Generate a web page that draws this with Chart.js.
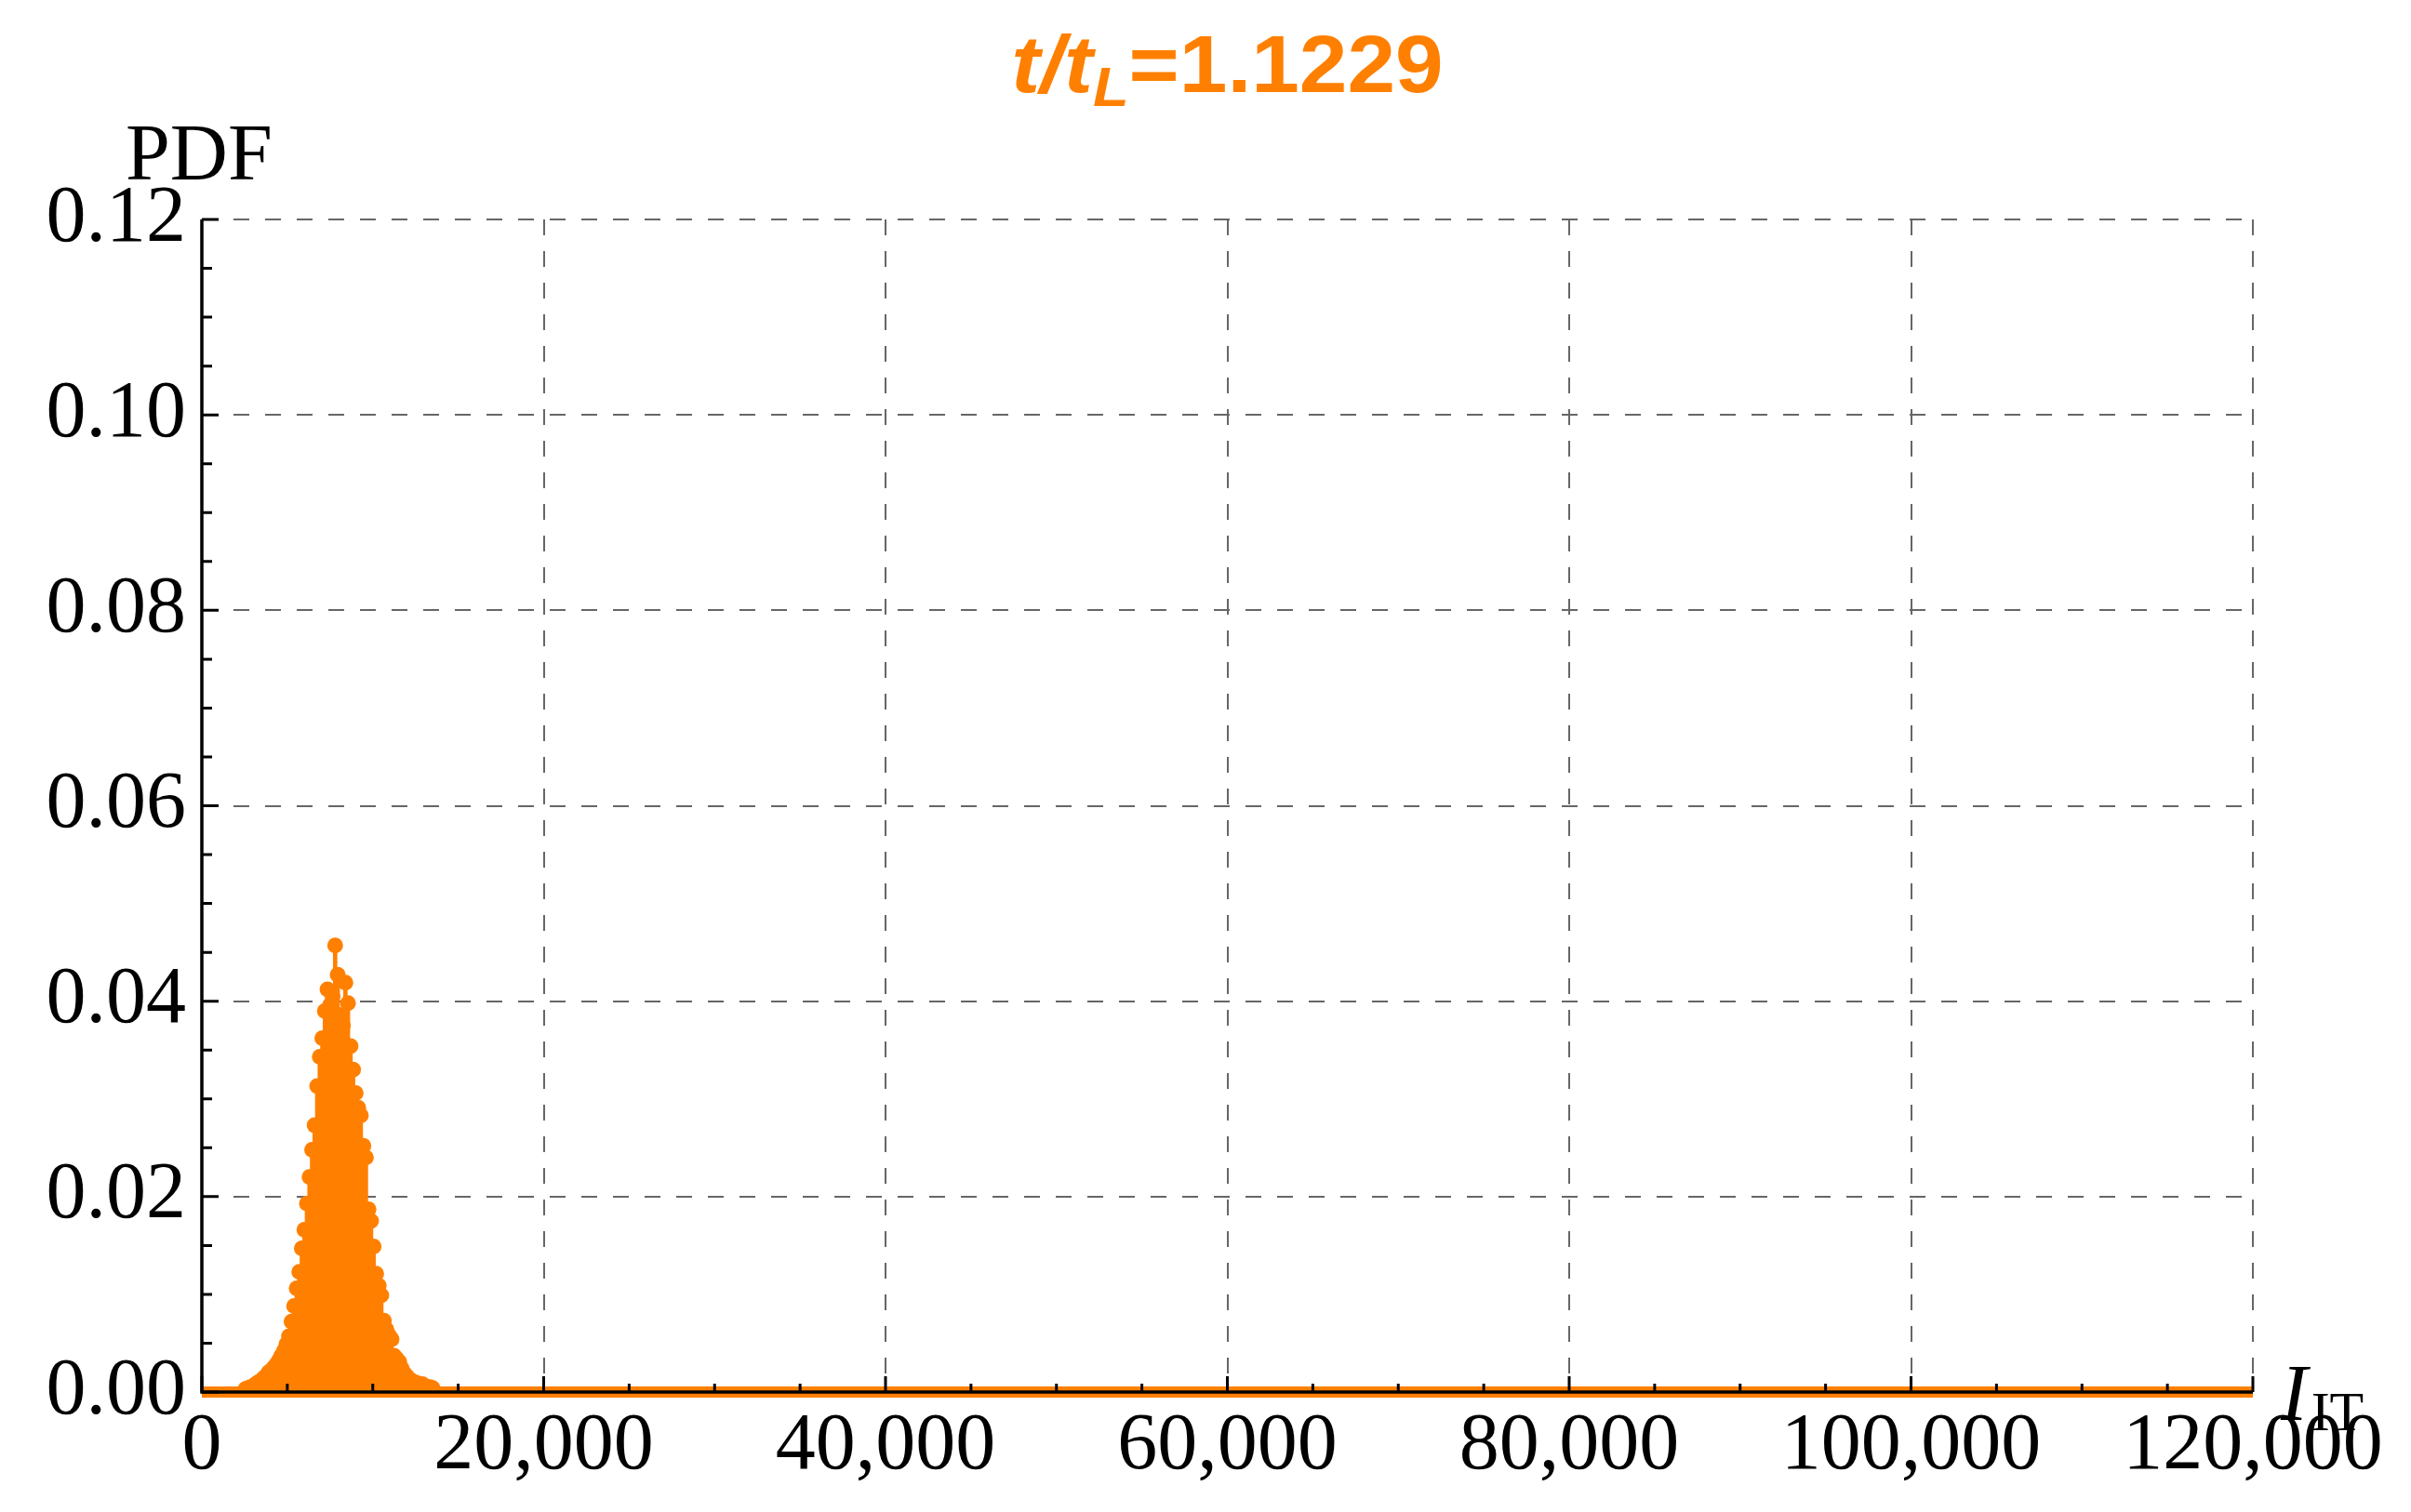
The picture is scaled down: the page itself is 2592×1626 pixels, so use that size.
<!DOCTYPE html>
<html>
<head>
<meta charset="utf-8">
<script src="https://cdn.jsdelivr.net/npm/chart.js@4.4.1/dist/chart.umd.min.js"></script>
<style>
  html, body { margin: 0; padding: 0; background: #fff; }
</style>
</head>
<body>
<canvas id="pdfChart" width="2592" height="1626"></canvas>
<script>
// I_IT bin positions and PDF values
const iIT = [
  2550, 2700, 2850, 3000, 3150, 3300, 3450, 3600, 3750, 3900,
  4050, 4200, 4350, 4500, 4650, 4800, 4950, 5100, 5250, 5400,
  5550, 5700, 5850, 6000, 6150, 6300, 6450, 6600, 6750, 6900,
  7050, 7200, 7350, 7500, 7650, 7800, 7950, 8100, 8250, 8400,
  8550, 8700, 8850, 9000, 9150, 9300, 9450, 9600, 9750, 9900,
  10050, 10200, 10350, 10500, 10650, 10800, 10950, 11100, 11250, 11400,
  11550, 11700, 11850, 12000, 12150, 12300, 12450, 12600, 12750, 12900,
  13050, 13200, 13350, 13500
];
const pdf = [
  0.0003, 0.0004, 0.0005, 0.0006, 0.0008, 0.0010, 0.0011, 0.0014, 0.0016, 0.0020,
  0.0022, 0.0025, 0.0028, 0.0032, 0.0037, 0.0042, 0.0049, 0.0057, 0.0072, 0.0088,
  0.0106, 0.0123, 0.0147, 0.0166, 0.0193, 0.0220, 0.0248, 0.0273, 0.0313, 0.0343,
  0.0362, 0.0390, 0.0412, 0.0396, 0.0405, 0.0457, 0.0427, 0.0386, 0.0375, 0.0419,
  0.0398, 0.0354, 0.0330, 0.0306, 0.0291, 0.0283, 0.0252, 0.0240, 0.0187, 0.0175,
  0.0149, 0.0121, 0.0109, 0.0099, 0.0073, 0.0064, 0.0058, 0.0054, 0.0037, 0.0034,
  0.0031, 0.0024, 0.0019, 0.0016, 0.0013, 0.0011, 0.0010, 0.0009, 0.0008, 0.0008,
  0.0006, 0.0005, 0.0005, 0.0004
];
// the rest of the range sits on zero
const zeroX = [0, 120000];
const zeroY = [0, 0];

const xTicks = [0, 20000, 40000, 60000, 80000, 100000, 120000];
const yTicks = [0, 0.02, 0.04, 0.06, 0.08, 0.10, 0.12];

const ORANGE = '#FF8000';
const SERIF = '"Liberation Serif", "Times New Roman", serif';
const SANS = '"Liberation Sans", Arial, sans-serif';

const points = iIT.map((v, i) => ({ x: v, y: pdf[i] }));
const zeroLine = zeroX.map((v, i) => ({ x: v, y: zeroY[i] }));

// black axes with inward ticks, drawn above the data
const axesPlugin = {
    id: 'axesOnTop',
    afterDatasetsDraw(chart) {
        const { ctx, chartArea: a, scales: { x, y } } = chart;
        ctx.save();
        ctx.strokeStyle = '#000';
        ctx.lineWidth = 3.5;
        ctx.beginPath();
        ctx.moveTo(a.left, a.top);
        ctx.lineTo(a.left, a.bottom);
        ctx.lineTo(a.right, a.bottom);
        ctx.stroke();

        ctx.lineWidth = 3;
        ctx.beginPath();
        for (let v = 0; v <= 120000; v += 5000) {
            const px = x.getPixelForValue(v);
            const len = v % 20000 === 0 ? 17 : 9;
            ctx.moveTo(px, a.bottom);
            ctx.lineTo(px, a.bottom - len);
        }
        for (let k = 0; k <= 24; k++) {
            const py = y.getPixelForValue(k * 0.005);
            const len = k % 4 === 0 ? 18 : 11;
            ctx.moveTo(a.left, py);
            ctx.lineTo(a.left + len, py);
        }
        ctx.stroke();
        ctx.restore();
    }
};

// title and axis labels with italics / subscripts
const labelsPlugin = {
    id: 'mixedLabels',
    afterDraw(chart) {
        const { ctx, chartArea: a } = chart;
        ctx.save();
        ctx.textBaseline = 'alphabetic';
        ctx.textAlign = 'left';

        // title font is a touch wider than Arial, so stretch it a little
        const stretch = 1.055;
        const parts = [
            { t: 't/t', font: `italic bold 88px ${SANS}`, dy: 0 },
            { t: 'L', font: `italic bold 60px ${SANS}`, dy: 15 },
            { t: '=1.1229', font: `bold 88px ${SANS}`, dy: 0 }
        ];
        let total = 0;
        parts.forEach(p => { ctx.font = p.font; p.w = ctx.measureText(p.t).width; total += p.w; });
        const mid = (a.left + a.right) / 2;
        ctx.save();
        ctx.translate(mid, 0);
        ctx.scale(stretch, 1);
        let cx = -total / 2;
        ctx.fillStyle = ORANGE;
        parts.forEach(p => {
            ctx.font = p.font;
            ctx.fillText(p.t, cx, 99 + p.dy);
            cx += p.w;
        });
        ctx.restore();

        ctx.fillStyle = '#000';
        ctx.font = `86px ${SERIF}`;
        ctx.fillText('PDF', 135, 193);

        ctx.font = `italic 86px ${SERIF}`;
        ctx.fillText('I', 2452, 1527);
        const iw = ctx.measureText('I').width;
        ctx.font = `60px ${SERIF}`;
        ctx.fillText('IT', 2452 + iw + 4, 1538);
        ctx.restore();
    }
};

const ctx = document.getElementById('pdfChart').getContext('2d');
new Chart(ctx, {
    type: 'bar',
    data: {
        datasets: [
            {
                type: 'scatter',
                data: points,
                pointRadius: 8.5,
                pointHoverRadius: 8.5,
                pointBackgroundColor: ORANGE,
                pointBorderWidth: 0,
                showLine: false,
                clip: { left: 3, top: 30, right: 5, bottom: 6 },
                order: 1
            },
            {
                type: 'bar',
                data: points,
                backgroundColor: ORANGE,
                borderWidth: 0,
                barThickness: 4,
                grouped: false,
                order: 2
            },
            {
                type: 'line',
                data: zeroLine,
                borderColor: ORANGE,
                borderWidth: 12,
                borderCapStyle: 'butt',
                pointRadius: 0,
                clip: { left: 3, top: 10, right: 5, bottom: 6 },
                order: 3
            }
        ]
    },
    options: {
        responsive: false,
        animation: false,
        devicePixelRatio: 1,
        layout: { padding: { top: 236, right: 170, left: 0, bottom: 0 } },
        plugins: {
            legend: { display: false },
            tooltip: { enabled: false },
            title: { display: false }
        },
        scales: {
            x: {
                type: 'linear',
                offset: false,
                min: 0,
                max: 120000,
                afterBuildTicks: scale => { scale.ticks = xTicks.map(v => ({ value: v })); },
                afterFit: scale => { scale.height = 129; },
                border: { display: false, dash: [17, 17] },
                grid: { color: '#666666', lineWidth: 2, drawTicks: false, offset: false },
                ticks: {
                    color: '#000',
                    padding: 16,
                    maxRotation: 0,
                    autoSkip: false,
                    font: { family: SERIF, size: 86, lineHeight: 1 },
                    callback: v => v.toLocaleString('en-US')
                }
            },
            y: {
                min: 0,
                max: 0.12,
                afterBuildTicks: scale => { scale.ticks = yTicks.map(v => ({ value: v })); },
                afterFit: scale => { scale.width = 217; },
                border: { display: false, dash: [17, 17] },
                grid: { color: '#666666', lineWidth: 2, drawTicks: false },
                ticks: {
                    color: '#000',
                    padding: 17,
                    autoSkip: false,
                    font: { family: SERIF, size: 86, lineHeight: 1 },
                    callback: v => v.toFixed(2)
                }
            }
        }
    },
    plugins: [axesPlugin, labelsPlugin]
});
</script>
</body>
</html>
